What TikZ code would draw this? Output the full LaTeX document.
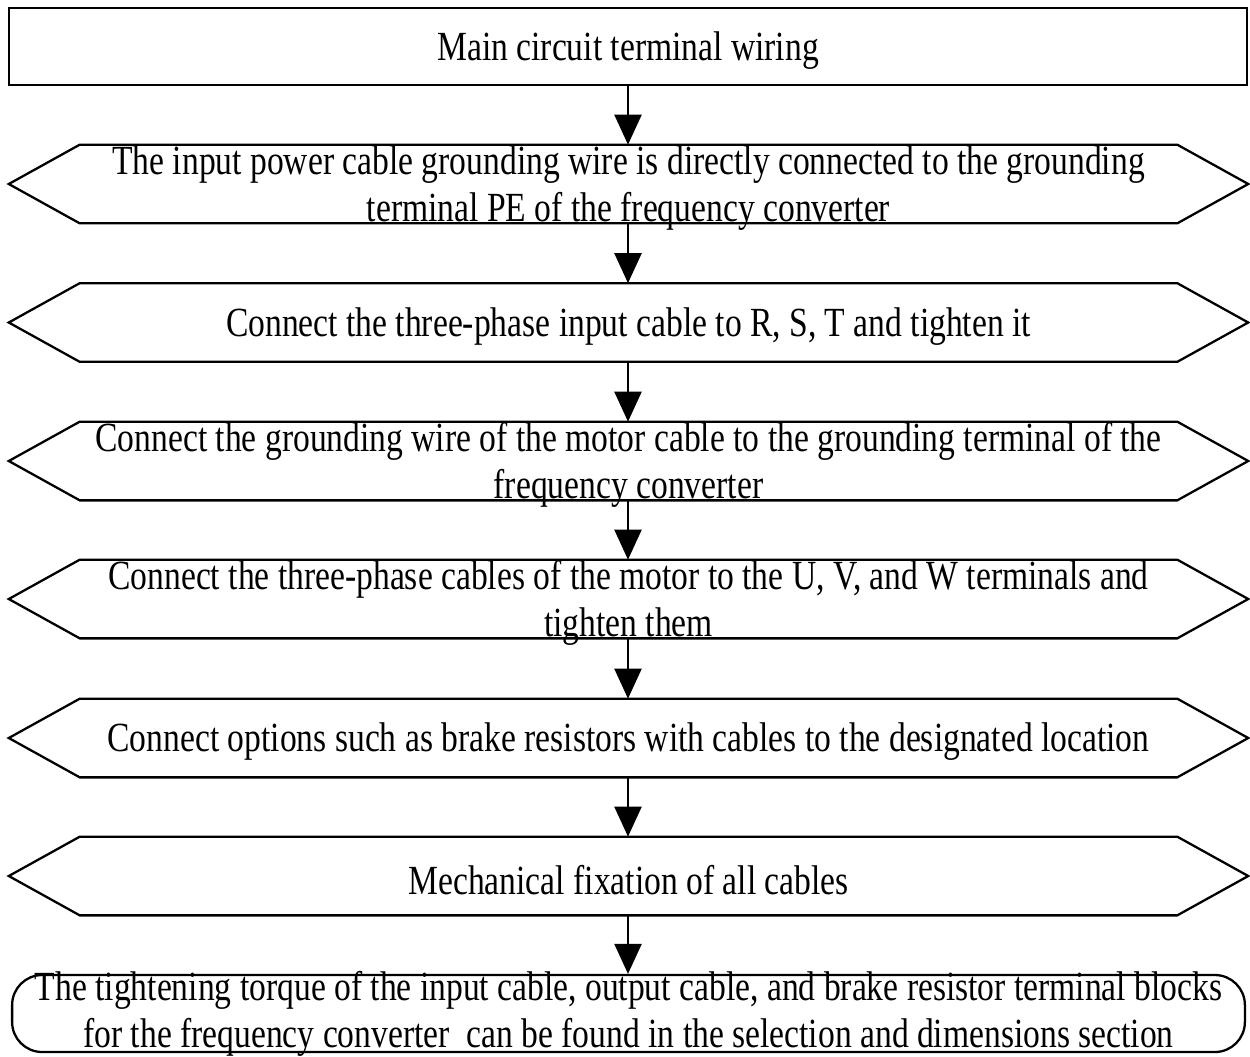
\documentclass[tikz,border=0pt]{standalone}
\usepackage{fontspec}
\setmainfont{Liberation Serif}[FakeStretch=0.81]
\usetikzlibrary{arrows.meta}

\begin{document}
\begin{tikzpicture}[x=0.02cm,y=-0.02cm,
    every node/.style={font=\fontsize{23.6}{26.7}\selectfont},
    frame/.style={draw,line width=1.3pt},
    stepshape/.style={minimum width=21.94cm,minimum height=1.56cm,inner sep=0pt},
    steptext/.style={align=center,inner sep=0pt,yshift=-0.08cm},
    flow/.style={line width=1.3pt,-{Triangle[length=0.6cm,width=0.54cm]}}]
    \useasboundingbox (0,0) rectangle (1250,1056);
    \node[frame,minimum width=24.76cm,minimum height=1.54cm] (main) at (628,46.5) {};
    \foreach \n/\y in {1/184,2/322.5,3/461,4/599,5/738,6/876}{
        \node[stepshape] (s\n) at (628.5,\y) {};
        \draw[frame] (s\n.north west) -- (s\n.north east) -- ([xshift=1.42cm]s\n.east) -- (s\n.south east)
            -- (s\n.south west) -- ([xshift=-1.42cm]s\n.west) -- cycle;
    }
    \node[frame,rounded corners=0.6cm,minimum width=24.66cm,minimum height=1.54cm] (endbox) at (628.5,1013.5) {};
    \node[steptext] (t0) at (main) {Main circuit terminal wiring};
    \node[steptext] (t1) at (s1) {The input power cable grounding wire is directly connected to the grounding\\terminal PE of the frequency converter};
    \node[steptext] (t2) at (s2) {Connect the three-phase input cable to R, S, T and tighten it};
    \node[steptext] (t3) at (s3) {Connect the grounding wire of the motor cable to the grounding terminal of the\\frequency converter};
    \node[steptext] (t4) at (s4) {Connect the three-phase cables of the motor to the U, V, and W terminals and\\tighten them};
    \node[steptext] (t5) at (s5) {Connect options such as brake resistors with cables to the designated location};
    \node[steptext] (t6) at (s6) {Mechanical fixation of all cables};
    \node[steptext,yshift=0.08cm] (t7) at (endbox) {The tightening torque of the input cable, output cable, and brake resistor terminal blocks\\for the frequency converter~ can be found in the selection and dimensions section};
    \foreach \a/\b in {main/s1,s1/s2,s2/s3,s3/s4,s4/s5,s5/s6,s6/endbox}
        \draw[flow] (\a.south -| main.south) -- (\b.north -| main.south);
\end{tikzpicture}
\end{document}
